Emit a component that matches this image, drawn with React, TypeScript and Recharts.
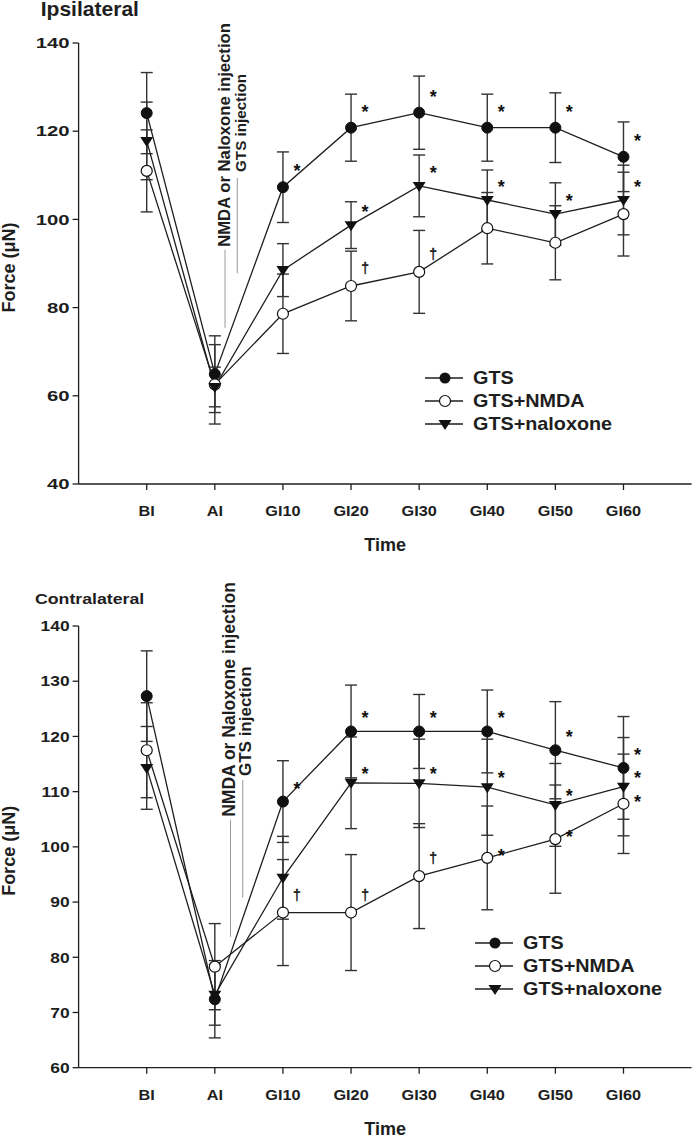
import React from 'react';
import { LineChart, Line, XAxis, YAxis, ErrorBar, LabelList, Legend, ReferenceLine, Label } from 'recharts';

const FONT = '"Liberation Sans", Arial, Helvetica, sans-serif';
const INK = '#1e1e1e';

const timePoints = ['BI', 'AI', 'GI10', 'GI20', 'GI30', 'GI40', 'GI50', 'GI60'];
const seriesNames = ['GTS', 'GTS+NMDA', 'GTS+naloxone'];

// ipsilateral
const ipsiGts = [124.1, 64.9, 107.3, 120.8, 124.2, 120.8, 120.8, 114.2];
const ipsiGtsErr = [9.2, 8.7, 8.0, 7.6, 8.3, 7.6, 7.9, 7.9];
const ipsiNmda = [111.0, 62.6, 78.6, 84.9, 88.1, 98.0, 94.7, 101.2];
const ipsiNmdaErr = [9.3, 9.0, 9.0, 7.9, 9.4, 8.1, 8.4, 9.5];
const ipsiNalox = [117.8, 62.0, 88.5, 98.7, 107.6, 104.4, 101.2, 104.4];
const ipsiNaloxErr = [8.8, 4.5, 6.0, 5.3, 7.0, 6.8, 7.1, 7.9];
const ipsiGtsSig = ['', '', '*', '*', '*', '*', '*', '*'];
const ipsiNmdaSig = ['', '', '', '†', '†', '', '', ''];
const ipsiNaloxSig = ['', '', '', '*', '*', '*', '*', '*'];

// contralateral
const contraGts = [127.3, 72.4, 108.2, 120.9, 120.9, 120.9, 117.5, 114.3];
const contraGtsErr = [8.2, 7.0, 7.4, 8.4, 6.7, 7.5, 8.8, 9.3];
const contraNmda = [117.5, 78.3, 88.1, 88.1, 94.7, 98.0, 101.4, 107.8];
const contraNmdaErr = [8.6, 7.8, 9.6, 10.5, 9.5, 9.4, 9.8, 9.0];
const contraNalox = [114.3, 73.2, 94.4, 111.6, 111.5, 110.8, 107.6, 110.9];
const contraNaloxErr = [7.5, 5.5, 7.5, 8.3, 8.0, 8.7, 7.5, 8.9];
const contraGtsSig = ['', '', '*', '*', '*', '*', '*', '*'];
const contraNmdaSig = ['', '', '†', '†', '†', '*', '*', '*'];
const contraNaloxSig = ['', '', '', '*', '*', '*', '*', '*'];

const ipsiTicks = [40, 60, 80, 100, 120, 140];
const contraTicks = [60, 70, 80, 90, 100, 110, 120, 130, 140];

function makeRows(gts, gtsErr, nmda, nmdaErr, nalox, naloxErr, gSig, mSig, nSig) {
  return timePoints.map((name, i) => ({
    pos: i + 1,
    name,
    gts: gts[i], gtsErr: gtsErr[i], gtsSig: gSig[i],
    nmda: nmda[i], nmdaErr: nmdaErr[i], nmdaSig: mSig[i],
    nalox: nalox[i], naloxErr: naloxErr[i], naloxSig: nSig[i],
  }));
}

const ipsiRows = makeRows(ipsiGts, ipsiGtsErr, ipsiNmda, ipsiNmdaErr, ipsiNalox, ipsiNaloxErr, ipsiGtsSig, ipsiNmdaSig, ipsiNaloxSig);
const contraRows = makeRows(contraGts, contraGtsErr, contraNmda, contraNmdaErr, contraNalox, contraNaloxErr, contraGtsSig, contraNmdaSig, contraNaloxSig);

const triPath = (cx, cy) => `M${cx - 6.5},${cy - 4} L${cx + 6.5},${cy - 4} L${cx},${cy + 6} Z`;

const FilledDot = (p) => (p.cx == null ? null : <circle key={`f${p.index}`} cx={p.cx} cy={p.cy} r={5.5} fill="#111" stroke="#111" />);
const OpenDot = (p) => (p.cx == null ? null : <circle key={`o${p.index}`} cx={p.cx} cy={p.cy} r={5.5} fill="#fff" stroke="#111" strokeWidth={1.2} />);
const TriDot = (p) => (p.cx == null ? null : <path key={`t${p.index}`} d={triPath(p.cx, p.cy)} fill="#111" />);

// significance marks, lifted dy px above the point
const makeMark = (dy) => (p) => {
  const { x, y, value } = p;
  if (!value) return null;
  const dagger = value === '†';
  const lift = dagger ? -18 : dy;
  return (
    <text x={Number(x) + 14} y={Number(y) + lift + (dagger ? 5 : 9)} textAnchor="middle"
          fontFamily={FONT} fontWeight={dagger ? 400 : 700} fontSize={dagger ? 14 : 18}
          fill="#111" stroke={dagger ? '#111' : 'none'} strokeWidth={0.4}>
      {value}
    </text>
  );
};

const XTick = (p) => (
  <text transform={`translate(${p.x},${p.y + 24}) scale(1.05,1)`} textAnchor="middle"
        fontFamily={FONT} fontWeight={700} fontSize={15.5} fill={INK}>
    {timePoints[p.payload.value - 1]}
  </text>
);

const makeYTick = (sx) => (p) => (
  <text transform={`translate(${p.x},${p.y}) scale(${sx},1)`} textAnchor="end" dy="0.36em"
        fontFamily={FONT} fontWeight={700} fontSize={14.5} fill={INK}>
    {p.payload.value}
  </text>
);

const LegendBox = () => (
  <svg width={270} height={75}>
    {seriesNames.map((name, i) => {
      const cy = 16 + i * 23;
      return (
        <g key={name}>
          <line x1={5} x2={43} y1={cy} y2={cy} stroke={INK} strokeWidth={1.3} />
          {i === 0 && <circle cx={25} cy={cy} r={5.5} fill="#111" />}
          {i === 1 && <circle cx={25} cy={cy} r={5.5} fill="#fff" stroke="#111" strokeWidth={1.2} />}
          {i === 2 && <path d={triPath(25, cy)} fill="#111" />}
          <text transform={`translate(53,${cy + 6.4}) scale(1.1,1)`} fontFamily={FONT} fontWeight={700} fontSize={18} fill={INK}>{name}</text>
        </g>
      );
    })}
  </svg>
);

function Panel({ rows, height, margin, yDomain, yTicks, ySx, legendPos, notes, lifts }) {
  const axisStyle = { stroke: INK, strokeWidth: 1.3 };
  return (
    <LineChart width={693} height={height} data={rows} margin={margin}>
      <XAxis type="number" dataKey="pos" domain={[0, 9]} ticks={rows.map((r) => r.pos)} interval={0}
             height={30} tickSize={6} tickMargin={2} axisLine={axisStyle} tickLine={axisStyle} tick={<XTick />}>
        <Label content={(p) => {
          const vb = p.viewBox;
          return <text x={vb.x + vb.width / 2} y={vb.y + 67} textAnchor="middle" fontFamily={FONT} fontWeight={700} fontSize={18} fill={INK}>Time</text>;
        }} />
      </XAxis>
      <YAxis type="number" domain={yDomain} ticks={yTicks} width={50} tickSize={6} tickMargin={3}
             axisLine={axisStyle} tickLine={axisStyle} tick={makeYTick(ySx)} allowDataOverflow>
        <Label content={(p) => {
          const vb = p.viewBox;
          const cy = vb.y + vb.height / 2 + 4;
          return <text transform={`translate(15,${cy}) rotate(-90)`} textAnchor="middle" fontFamily={FONT} fontWeight={700} fontSize={18} fill={INK}>Force (μN)</text>;
        }} />
      </YAxis>
      {notes.map((n) => (
        <ReferenceLine key={n.text} segment={[{ x: n.x, y: n.y1 }, { x: n.x, y: n.y2 }]} stroke="#9a9a9a" strokeWidth={1}
                       label={{
                         content: (p) => {
                           const vb = p.viewBox || {};
                           return (
                             <text transform={`translate(${vb.x + n.dx},${vb.y - n.gap}) rotate(-90)`} textAnchor="start"
                                   fontFamily={FONT} fontWeight={700} fontSize={n.size} fill={INK}>{n.text}</text>
                           );
                         },
                       }} />
      ))}
      <Line dataKey="gts" stroke={INK} strokeWidth={1.3} dot={FilledDot} isAnimationActive={false}>
        <ErrorBar dataKey="gtsErr" direction="y" width={6} stroke="#333" strokeWidth={1.4} />
        <LabelList dataKey="gtsSig" content={makeMark(lifts[0])} />
      </Line>
      <Line dataKey="nmda" stroke={INK} strokeWidth={1.3} dot={OpenDot} isAnimationActive={false}>
        <ErrorBar dataKey="nmdaErr" direction="y" width={6} stroke="#333" strokeWidth={1.4} />
        <LabelList dataKey="nmdaSig" content={makeMark(lifts[1])} />
      </Line>
      <Line dataKey="nalox" stroke={INK} strokeWidth={1.3} dot={TriDot} isAnimationActive={false}>
        <ErrorBar dataKey="naloxErr" direction="y" width={6} stroke="#333" strokeWidth={1.4} />
        <LabelList dataKey="naloxSig" content={makeMark(lifts[2])} />
      </Line>
      <Legend verticalAlign="middle" layout="horizontal" align="center" content={LegendBox}
              wrapperStyle={{ left: legendPos.left, top: legendPos.top, width: 270, height: 75 }} />
    </LineChart>
  );
}

const ipsiNotes = [
  { x: 2.15, y1: 93.1, y2: 75.4, text: 'NMDA or Naloxone injection', size: 16.7, dx: 5, gap: 3 },
  { x: 2.33, y1: 109.4, y2: 87.8, text: 'GTS injection', size: 15.2, dx: 8.5, gap: 6 },
];
const contraNotes = [
  { x: 2.23, y1: 104.9, y2: 83.7, text: 'NMDA or Naloxone injection', size: 17.5, dx: 5, gap: 3 },
  { x: 2.41, y1: 112.1, y2: 90.8, text: 'GTS injection', size: 17, dx: 8, gap: 4 },
];

export default function App() {
  return (
    <div style={{ position: 'absolute', left: 0, top: 0, width: 693, height: 1138, background: '#fff' }}>
      <div style={{ position: 'absolute', left: 0, top: 0 }}>
        <Panel rows={ipsiRows} height={560} margin={{ top: 43, right: 1.4, bottom: 46, left: 28.6 }}
               yDomain={[40, 140]} yTicks={ipsiTicks} ySx={1.4} legendPos={{ left: 420, top: 362 }}
               notes={ipsiNotes} lifts={[-19, -17, -16]} />
      </div>
      <div style={{ position: 'absolute', left: 0, top: 560 }}>
        <Panel rows={contraRows} height={578} margin={{ top: 66, right: 1.4, bottom: 40.3, left: 28.6 }}
               yDomain={[60, 140]} yTicks={contraTicks} ySx={1.2} legendPos={{ left: 470, top: 367 }}
               notes={contraNotes} lifts={[-16, -5, -12]} />
      </div>
      <svg width={693} height={1138} style={{ position: 'absolute', left: 0, top: 0, pointerEvents: 'none' }}>
        <text transform="translate(40.7,16) scale(1.08,1)" fontFamily={FONT} fontWeight={700} fontSize={19.5} fill={INK}>Ipsilateral</text>
        <text transform="translate(35,604.3) scale(1.15,1)" fontFamily={FONT} fontWeight={700} fontSize={15.4} fill={INK}>Contralateral</text>
      </svg>
    </div>
  );
}
